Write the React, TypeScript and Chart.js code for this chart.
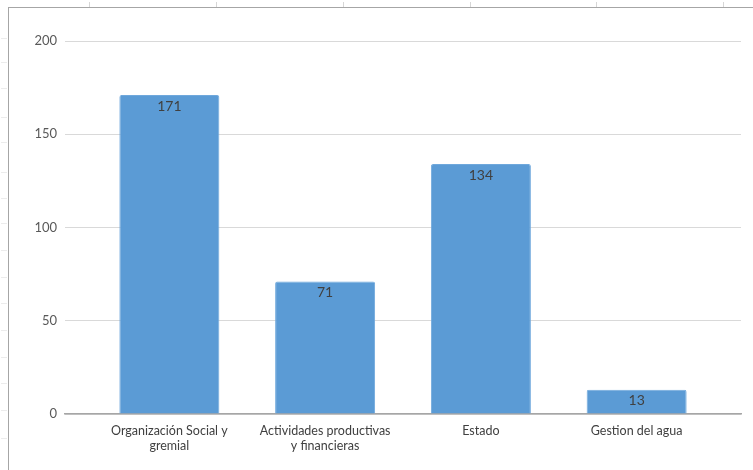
import React, { useEffect, useRef } from "react";
import { Chart, registerables } from "chart.js";

Chart.register(...registerables);

const categories: string[][] = [
  ["Organización Social y", "gremial"],
  ["Actividades productivas", "y financieras"],
  ["Estado"],
  ["Gestion del agua"],
];
const values: number[] = [171, 71, 134, 13];
const yTicks: number[] = [0, 50, 100, 150, 200];

const FONT = "Lato, 'Open Sans', sans-serif";

const labelPlugin = {
  id: "barLabels",
  afterDatasetsDraw(chart: any) {
    const ctx = chart.ctx;
    const meta = chart.getDatasetMeta(0);
    ctx.save();
    ctx.font = `14px ${FONT}`;
    ctx.fillStyle = "#404040";
    ctx.textAlign = "center";
    ctx.textBaseline = "middle";
    meta.data.forEach((el: any, i: number) => {
      ctx.fillText(String(values[i]), el.x, el.y + 11);
    });
    ctx.restore();
  },
};

export default function App() {
  const ref = useRef<HTMLCanvasElement>(null);
  useEffect(() => {
    if (!ref.current) return;
    const chart = new Chart(ref.current, {
      type: "bar",
      data: {
        datasets: [
          {
            data: values.map((v, i) => ({ x: i, y: v })),
            backgroundColor: "#5b9bd5",
            borderColor: "#6fa8dc",
            borderWidth: 1,
            borderRadius: 2,
            borderSkipped: "bottom",
            barPercentage: 0.642,
            categoryPercentage: 1,
          },
        ],
      },
      options: {
        animation: false,
        responsive: true,
        maintainAspectRatio: false,
        layout: { padding: { top: 41, right: 12, left: 0, bottom: 0 } },
        plugins: { legend: { display: false }, tooltip: { enabled: false } },
        scales: {
          x: {
            type: "linear",
            offset: false,
            min: -0.67,
            max: 3.67,
            grid: { display: false, drawTicks: false, offset: false },
            border: { display: true, color: "#a6a6a6", width: 1.5 },
            afterBuildTicks: (scale: any) => {
              scale.ticks = categories.map((_, i) => ({ value: i }));
            },
            afterFit: (scale: any) => {
              scale.height = 56;
            },
            ticks: {
              autoSkip: false,
              maxRotation: 0,
              padding: 9,
              color: "#404040",
              font: { family: FONT, size: 12.5, lineHeight: 1.2 },
              callback: (v: any) => categories[v as number] ?? "",
            },
          },
          y: {
            min: 0,
            max: 200,
            afterBuildTicks: (scale: any) => {
              scale.ticks = yTicks.map((v) => ({ value: v }));
            },
            afterFit: (scale: any) => {
              scale.width = 65;
            },
            grid: { color: "#d9d9d9", lineWidth: 1, drawTicks: false },
            border: { display: false },
            ticks: {
              padding: 8,
              color: "#595959",
              font: { family: FONT, size: 13 },
            },
          },
        },
      },
      plugins: [labelPlugin],
    });
    return () => chart.destroy();
  }, []);

  const topMarks = [89, 216, 343, 470, 596, 723];
  const leftMarks = [38, 62, 88, 117, 142, 172, 198, 223, 250, 277, 303, 330, 357, 383, 410, 438];

  return (
    <div style={{ position: "absolute", left: 0, top: 0, width: 753, height: 470, background: "#fff", overflow: "hidden" }}>
      {topMarks.map((x) => (
        <div key={"t" + x} style={{ position: "absolute", left: x, top: 2, width: 1, height: 6, background: "#d6d6d6" }} />
      ))}
      {leftMarks.map((y) => (
        <div key={"l" + y} style={{ position: "absolute", left: 1, top: y, width: 6, height: 1, background: "#ececec" }} />
      ))}
      <div style={{ position: "absolute", left: 8, top: 7, width: 745, height: 1, background: "#a6a6a6" }} />
      <div style={{ position: "absolute", left: 8, top: 7, width: 1, height: 463, background: "#a6a6a6" }} />
      <div style={{ position: "absolute", left: 0, top: 0, width: 753, height: 470 }}>
        <canvas ref={ref} />
      </div>
    </div>
  );
}
